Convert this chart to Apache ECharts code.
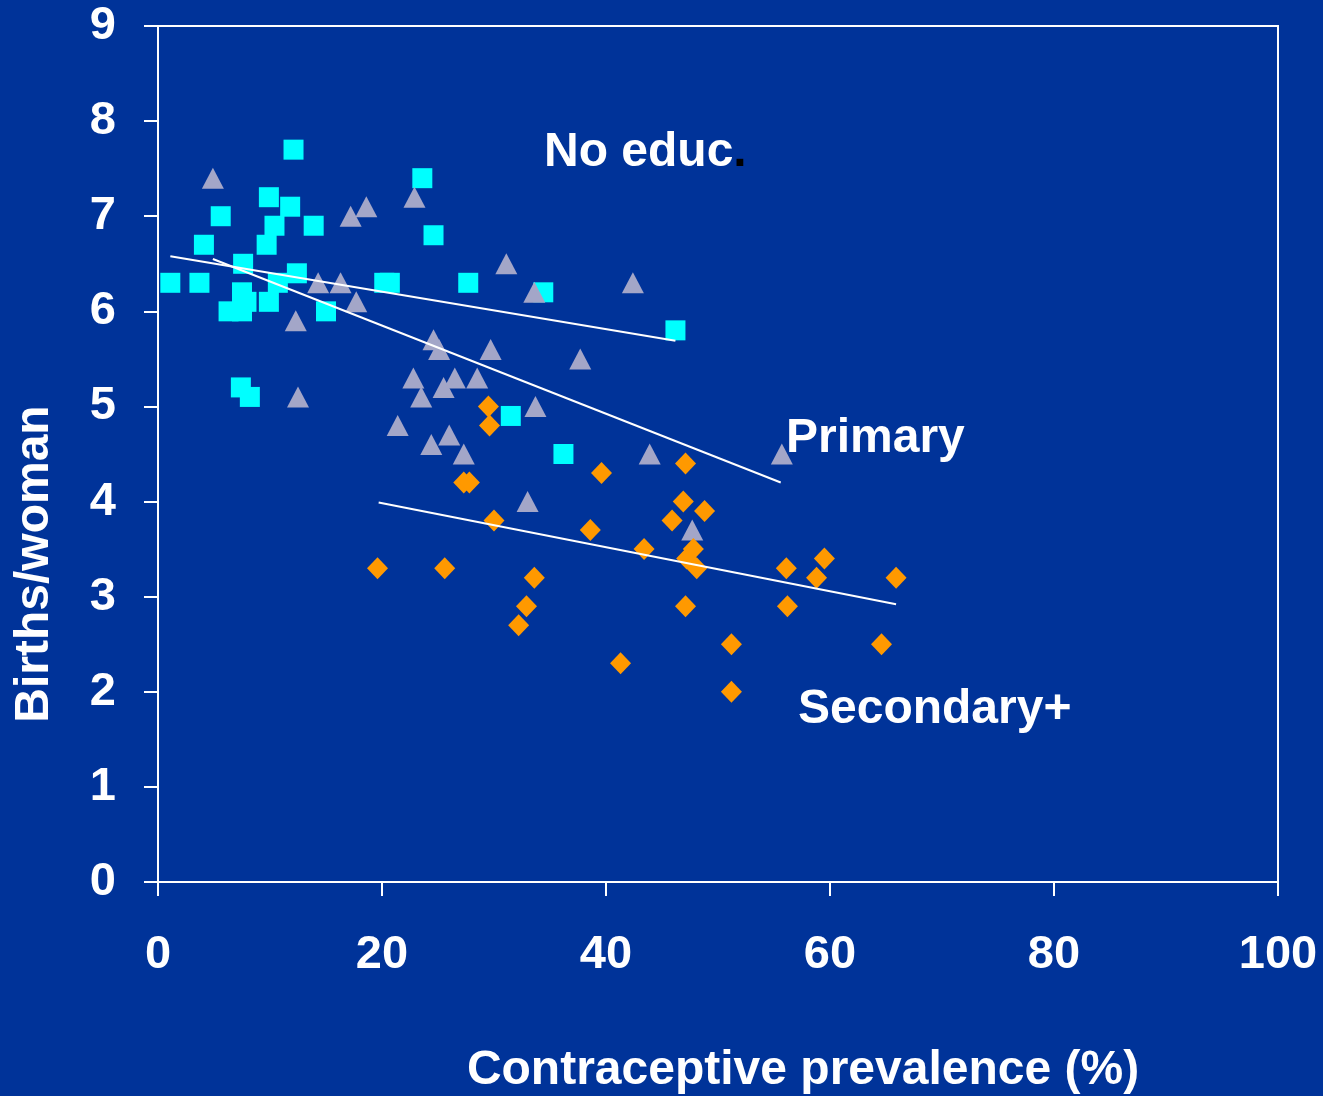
<!DOCTYPE html>
<html>
<head>
<meta charset="utf-8">
<script src="https://cdn.jsdelivr.net/npm/echarts@6/dist/echarts.min.js"></script>
<style>
html,body{margin:0;padding:0;background:#003399;}
#chart{width:1323px;height:1096px;}
</style>
</head>
<body>
<div id="chart"></div>
<script>
// Data (x = contraceptive prevalence %, y = births per woman)
var noEducPoints = [
  [1.1,6.3],[3.7,6.3],[4.1,6.7],[5.6,7.0],[7.6,6.5],[6.3,6.0],[7.5,6.0],[7.5,6.2],
  [7.9,6.1],[9.9,7.2],[9.7,6.7],[9.9,6.1],[10.4,6.9],[11.8,7.1],[12.1,7.7],[12.4,6.4],
  [10.7,6.3],[13.9,6.9],[15.0,6.0],[20.2,6.3],[20.7,6.3],[23.6,7.4],[24.6,6.8],[27.7,6.3],
  [34.4,6.2],[46.2,5.8],[31.5,4.9],[36.2,4.5],[7.4,5.2],[8.2,5.1]
];
var primaryPoints = [
  [4.9,7.4],[17.2,7.0],[18.6,7.1],[22.9,7.2],[14.3,6.3],[16.3,6.3],[17.7,6.1],[12.3,5.9],
  [12.5,5.1],[31.1,6.5],[33.6,6.2],[42.4,6.3],[37.7,5.5],[24.6,5.7],[25.1,5.6],[29.7,5.6],
  [22.8,5.3],[26.5,5.3],[28.5,5.3],[25.5,5.2],[23.5,5.1],[21.4,4.8],[24.4,4.6],[26.0,4.7],
  [27.3,4.5],[33.7,5.0],[33.0,4.0],[43.9,4.5],[55.7,4.5],[47.7,3.7]
];
var secondaryPoints = [
  [19.6,3.3],[25.6,3.3],[27.3,4.2],[27.8,4.2],[29.5,5.0],[29.6,4.8],[30.0,3.8],[33.6,3.2],
  [32.9,2.9],[32.2,2.7],[38.6,3.7],[39.6,4.3],[41.3,2.3],[43.4,3.5],[45.9,3.8],[46.9,4.0],
  [47.1,4.4],[48.8,3.9],[47.1,2.9],[47.8,3.5],[47.2,3.4],[48.1,3.3],[51.2,2.5],[51.2,2.0],
  [56.1,3.3],[56.2,2.9],[58.8,3.2],[59.5,3.4],[65.9,3.2],[64.6,2.5]
];
var noEducTrend = [[1.1,6.58],[46.2,5.69]];
var primaryTrend = [[4.9,6.55],[55.6,4.20]];
var secondaryTrend = [[19.7,3.99],[65.9,2.92]];
var xTicks = [0,20,40,60,80,100];
var yTicks = [0,1,2,3,4,5,6,7,8,9];
var groupLabels = ['No educ', 'Primary', 'Secondary+'];
var xTitle = 'Contraceptive prevalence (%)';
var yTitle = 'Births/woman';

var FONT = '"Liberation Sans", Arial, sans-serif';
var chart = echarts.init(document.getElementById('chart'));
var lineStyle = {color:'#ffffff', width:2};
var option = {
  animation:false,
  backgroundColor:'#003399',
  grid:{left:158, top:26, right:45, bottom:214, show:true, borderColor:'#ffffff', borderWidth:2, backgroundColor:'transparent'},
  xAxis:{
    type:'value', min:xTicks[0], max:xTicks[xTicks.length-1], interval:20,
    axisLine:{show:true, lineStyle:{color:'#ffffff', width:2}},
    axisTick:{show:true, length:14, inside:false, lineStyle:{color:'#ffffff', width:2}},
    axisLabel:{color:'#ffffff', fontSize:47, fontWeight:'bold', fontFamily:FONT, margin:50},
    splitLine:{show:false}
  },
  yAxis:{
    type:'value', min:yTicks[0], max:yTicks[yTicks.length-1], interval:1,
    axisLine:{show:true, lineStyle:{color:'#ffffff', width:2}},
    axisTick:{show:true, length:14, inside:false, lineStyle:{color:'#ffffff', width:2}},
    axisLabel:{color:'#ffffff', fontSize:47, fontWeight:'bold', fontFamily:FONT, margin:42},
    splitLine:{show:false}
  },
  series:[
    {type:'scatter', name:groupLabels[0], data:noEducPoints, symbol:'rect', symbolSize:20,
     itemStyle:{color:'#00FFFF', opacity:1}, z:3},
    {type:'scatter', name:groupLabels[1], data:primaryPoints, symbol:'triangle', symbolSize:[22,21],
     itemStyle:{color:'#A3A6C8', opacity:1}, z:3},
    {type:'scatter', name:groupLabels[2], data:secondaryPoints, symbol:'diamond', symbolSize:[21,22],
     itemStyle:{color:'#FF9900', opacity:1}, z:3},
    {type:'line', data:noEducTrend, showSymbol:false, symbol:'none', lineStyle:lineStyle, z:4},
    {type:'line', data:primaryTrend, showSymbol:false, symbol:'none', lineStyle:lineStyle, z:4},
    {type:'line', data:secondaryTrend, showSymbol:false, symbol:'none', lineStyle:lineStyle, z:4}
  ],
  graphic:[
    {type:'text', left:544, top:129, z:10, style:{
      text:'{a|' + groupLabels[0] + '}{b|.}',
      rich:{a:{fill:'#ffffff', font:'bold 48px ' + FONT}, b:{fill:'#000000', font:'bold 48px ' + FONT}}
    }},
    {type:'text', left:786, top:415, z:10, style:{text:groupLabels[1], fill:'#ffffff', font:'bold 48px ' + FONT}},
    {type:'text', left:798, top:686, z:10, style:{text:groupLabels[2], fill:'#ffffff', font:'bold 48px ' + FONT}},
    {type:'text', z:10, x:803, y:1071, style:{text:xTitle, fill:'#ffffff', font:'bold 48px ' + FONT, align:'center', verticalAlign:'middle'}},
    {type:'text', z:10, x:35, y:564, rotation:Math.PI/2, style:{text:yTitle, fill:'#ffffff', font:'bold 48px ' + FONT, align:'center', verticalAlign:'middle'}}
  ]
};
chart.setOption(option);
</script>
</body>
</html>
